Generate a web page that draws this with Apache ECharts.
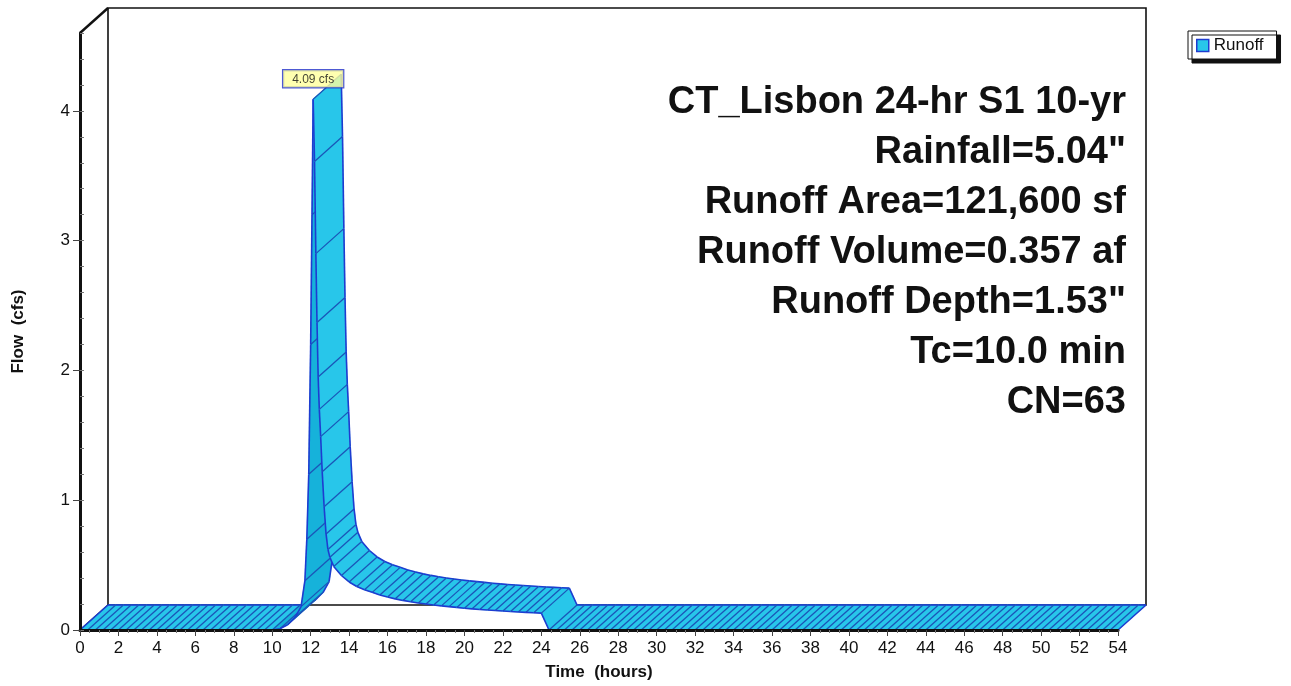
<!DOCTYPE html>
<html>
<head>
<meta charset="utf-8">
<script src="https://cdn.jsdelivr.net/npm/echarts@6/dist/echarts.min.js"></script>
<style>
  html, body { margin: 0; padding: 0; background: #ffffff; }
  #chart { width: 1291px; height: 686px; }
</style>
</head>
<body>
<div id="chart"></div>
<script>
// Runoff hydrograph: time (hours) and flow (cfs)
const timeHours = [
  0, 0.4, 0.8, 1.2, 1.6, 2.0, 2.4, 2.8, 3.2, 3.6, 4.0, 4.4, 4.8, 5.2, 5.6, 6.0, 6.4, 6.8, 7.2, 7.6,
  8.0, 8.4, 8.8, 9.2, 9.6, 10.0,
  10.4, 10.8, 11.2, 11.5, 11.7, 11.8, 11.9, 12.0, 12.07, 12.13,
  12.2, 12.27, 12.33, 12.39, 12.45, 12.52, 12.6, 12.7, 12.8, 12.9, 13.0, 13.2,
  13.6, 14.0, 14.4, 14.8, 15.2, 15.6, 16.0, 16.4, 16.8, 17.2, 17.6, 18.0, 18.4, 18.8, 19.2, 19.6,
  20.0, 20.4, 20.8, 21.2, 21.6, 22.0, 22.4, 22.8, 23.2, 23.6, 24.0,
  24.4, 24.8, 25.2, 25.6, 26.0, 26.4, 26.8, 27.2, 27.6, 28.0, 28.4, 28.8, 29.2, 29.6, 30.0,
  30.4, 30.8, 31.2, 31.6, 32.0, 32.4, 32.8, 33.2, 33.6, 34.0, 34.4, 34.8, 35.2, 35.6, 36.0,
  36.4, 36.8, 37.2, 37.6, 38.0, 38.4, 38.8, 39.2, 39.6, 40.0, 40.4, 40.8, 41.2, 41.6, 42.0,
  42.4, 42.8, 43.2, 43.6, 44.0, 44.4, 44.8, 45.2, 45.6, 46.0, 46.4, 46.8, 47.2, 47.6, 48.0,
  48.4, 48.8, 49.2, 49.6, 50.0, 50.4, 50.8, 51.2, 51.6, 52.0, 52.4, 52.8, 53.2, 53.6, 54.0
];
const flowCfs = [
  0, 0, 0, 0, 0, 0, 0, 0, 0, 0, 0, 0, 0, 0, 0, 0, 0, 0, 0, 0,
  0, 0, 0, 0, 0, 0,
  0.01, 0.04, 0.10, 0.18, 0.38, 0.70, 1.20, 2.20, 3.20, 4.09,
  3.61, 2.90, 2.37, 1.95, 1.70, 1.49, 1.22, 0.95, 0.74, 0.62, 0.56, 0.49,
  0.42, 0.37, 0.335, 0.31, 0.29, 0.27, 0.255, 0.24, 0.228, 0.218, 0.208, 0.200, 0.193, 0.186, 0.180, 0.174,
  0.168, 0.163, 0.158, 0.154, 0.150, 0.146, 0.142, 0.139, 0.136, 0.133, 0.130,
  0, 0, 0, 0, 0, 0, 0, 0, 0, 0, 0, 0, 0, 0, 0,
  0, 0, 0, 0, 0, 0, 0, 0, 0, 0, 0, 0, 0, 0, 0,
  0, 0, 0, 0, 0, 0, 0, 0, 0, 0, 0, 0, 0, 0, 0,
  0, 0, 0, 0, 0, 0, 0, 0, 0, 0, 0, 0, 0, 0, 0,
  0, 0, 0, 0, 0, 0, 0, 0, 0, 0, 0, 0, 0, 0, 0
];

// Axis ranges and labelled ticks
const timeRange = [0, 54];
const flowRange = [0, 4.6];
const flowLabelTicks = [0, 1, 2, 3, 4];

// Summary block
const infoLines = [
  'CT_Lisbon 24-hr S1 10-yr',
  'Rainfall=5.04"',
  'Runoff Area=121,600 sf',
  'Runoff Volume=0.357 af',
  'Runoff Depth=1.53"',
  'Tc=10.0 min',
  'CN=63'
];
const seriesName = 'Runoff';

// Look of the 3-D ribbon
const DEPTH_X = 28, DEPTH_Y = -25;
const FILL = '#28c6ea';
const FILL_RISE = '#16b2da';
const HATCH = '#1a55b8';
const EDGE = '#1e3cd0';
const FONT = '"Liberation Sans", Arial, sans-serif';

const segments = timeHours.slice(0, -1).map((t, i) => [t, flowCfs[i], timeHours[i + 1], flowCfs[i + 1]]);
const lastSeg = segments.length - 1;
let peakIdx = 0;
flowCfs.forEach((v, i) => { if (v > flowCfs[peakIdx]) peakIdx = i; });

function shift(p) { return [p[0] + DEPTH_X, p[1] + DEPTH_Y]; }

function renderRibbon(params, api) {
  const a = api.coord([api.value(0), api.value(1)]);
  const b = api.coord([api.value(2), api.value(3)]);
  const a2 = shift(a), b2 = shift(b);
  const fill = api.value(3) > api.value(1) ? FILL_RISE : FILL;
  const z = params.dataIndex * 4;
  const first = params.dataIndex === 0;
  const children = [
    { type: 'polygon', z2: z, shape: { points: [a, b, b2, a2] },
      style: { fill: fill, stroke: fill, lineWidth: 0.6 } },
    { type: 'line', z2: z + 1, shape: { x1: a[0], y1: a[1], x2: a2[0], y2: a2[1] },
      style: { stroke: first ? EDGE : HATCH, lineWidth: first ? 1.6 : 1.3 } },
    { type: 'line', z2: z + 2, shape: { x1: a[0], y1: a[1], x2: b[0], y2: b[1] },
      style: { stroke: EDGE, lineWidth: 1.6 } },
    { type: 'line', z2: z + 2, shape: { x1: a2[0], y1: a2[1], x2: b2[0], y2: b2[1] },
      style: { stroke: EDGE, lineWidth: 1.6 } }
  ];
  if (params.dataIndex === lastSeg) {
    children.push({ type: 'line', z2: z + 3, shape: { x1: b[0], y1: b[1], x2: b2[0], y2: b2[1] },
      style: { stroke: EDGE, lineWidth: 1.6 } });
  }
  return { type: 'group', children: children };
}

// Back wall of the box: rear axis, rear baseline, top and right edges
function renderFrame(params, api) {
  const o = api.coord([timeRange[0], flowRange[0]]);
  const top = api.coord([timeRange[0], flowRange[1]]);
  const r = api.coord([timeRange[1], flowRange[0]]);
  const o2 = shift(o), t2 = shift(top), r2 = shift(r);
  const rt2 = [r2[0], t2[1]];
  const s = { stroke: '#111', lineWidth: 1.6, fill: null };
  return { type: 'group', children: [
    { type: 'polyline', shape: { points: [o2, t2, rt2, r2, o2] }, style: s },
    { type: 'line', shape: { x1: top[0], y1: top[1], x2: t2[0], y2: t2[1] }, style: { stroke: '#111', lineWidth: 2.4 } },
    { type: 'line', shape: { x1: o[0], y1: o[1], x2: o2[0], y2: o2[1] }, style: { stroke: '#111', lineWidth: 1.5 } }
  ]};
}

const chart = echarts.init(document.getElementById('chart'), null, { renderer: 'canvas' });

chart.setOption({
  backgroundColor: '#ffffff',
  animation: false,
  grid: { left: 80, right: 173, top: 33, bottom: 53, containLabel: false },
  xAxis: {
    type: 'value', min: timeRange[0], max: timeRange[1], interval: 2, z: 3,
    name: 'Time  (hours)', nameLocation: 'middle', nameGap: 34,
    nameTextStyle: { fontFamily: FONT, fontSize: 17, fontWeight: 'bold', color: '#111' },
    axisLine: { show: true, onZero: false, lineStyle: { color: '#111', width: 3 } },
    axisTick: { show: true, length: 6, lineStyle: { color: '#444', width: 1 } },
    minorTick: { show: true, splitNumber: 4, length: 3, lineStyle: { color: '#777', width: 1 } },
    axisLabel: { fontFamily: FONT, fontSize: 17, color: '#111', margin: 10 },
    splitLine: { show: false }
  },
  yAxis: [
    {
      type: 'value', min: flowRange[0], max: flowRange[1], z: 3,
      name: 'Flow  (cfs)', nameLocation: 'middle', nameGap: 53,
      nameTextStyle: { fontFamily: FONT, fontSize: 17, fontWeight: 'bold', color: '#111' },
      axisLine: { show: true, onZero: false, lineStyle: { color: '#111', width: 3 } },
      axisTick: { show: true, length: 7, customValues: flowLabelTicks, lineStyle: { color: '#444', width: 1 } },
      axisLabel: { fontFamily: FONT, fontSize: 17, color: '#111', margin: 10, customValues: flowLabelTicks },
      splitLine: { show: false }
    },
    {
      type: 'value', min: flowRange[0], max: flowRange[1], interval: 0.2, z: 3,
      axisLine: { show: false },
      axisTick: { show: true, length: 4, lineStyle: { color: '#777', width: 1 } },
      axisLabel: { show: false },
      splitLine: { show: false }
    }
  ],
  legend: {
    data: [{ name: seriesName, icon: 'rect',
      itemStyle: { color: FILL, borderColor: EDGE, borderWidth: 1.5 } }],
    left: 1188, top: 31,
    itemWidth: 12, itemHeight: 12, itemGap: 5,
    padding: [6, 13, 5, 8],
    backgroundColor: '#ffffff', borderColor: '#111', borderWidth: 1,
    shadowColor: '#111', shadowBlur: 0, shadowOffsetX: 4, shadowOffsetY: 4,
    textStyle: { fontFamily: FONT, fontSize: 17, color: '#111' },
    selectedMode: false
  },
  graphic: [{
    type: 'text', x: 1126, y: 78, z: 10,
    style: {
      text: infoLines.join('\n'), align: 'right', verticalAlign: 'top',
      font: 'bold 38px ' + FONT, lineHeight: 50, fill: '#111'
    }
  }],
  series: [
    {
      type: 'custom', name: '__frame', z: 1, silent: true, clip: false,
      data: [[timeRange[0], flowRange[0]]],
      renderItem: renderFrame
    },
    {
      type: 'custom', name: seriesName, z: 2, clip: false,
      itemStyle: { color: FILL },
      data: segments,
      encode: { x: [0, 2], y: [1, 3] },
      renderItem: renderRibbon
    },
    {
      type: 'scatter', name: 'peak', z: 5, symbolSize: 0, silent: true,
      data: [[timeHours[peakIdx], flowCfs[peakIdx]]],
      label: {
        show: true, position: 'top', distance: 12,
        formatter: p => p.value[1].toFixed(2) + ' cfs',
        fontFamily: FONT, fontSize: 12, color: '#111',
        backgroundColor: '#ffff9c', borderColor: '#2030c8', borderWidth: 1.2,
        padding: [3, 9, 2, 9]
      }
    }
  ]
});
</script>
</body>
</html>
